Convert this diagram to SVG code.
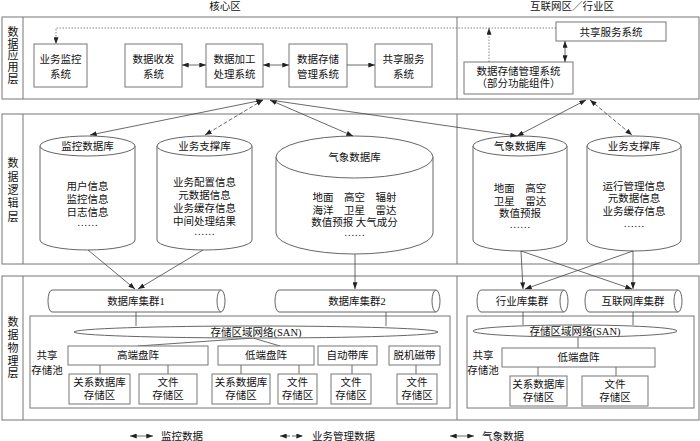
<svg xmlns="http://www.w3.org/2000/svg" width="700" height="441" viewBox="0 0 700 441">
<defs>
<marker id="ah" viewBox="0 0 8 6" refX="8" refY="3" markerWidth="7" markerHeight="5" orient="auto-start-reverse" markerUnits="userSpaceOnUse">
<path d="M0,0 L8,3 L0,6 Z" fill="#222"/>
</marker>
<style>
text{font-family:"Liberation Serif","Noto Sans CJK SC",serif;font-size:10.5px;fill:#111;text-anchor:middle}
.frame{fill:none;stroke:#777;stroke-width:1}
.box{fill:#fff;stroke:#777;stroke-width:1}
.cyl{fill:#fff;stroke:#666;stroke-width:1}
.ln{fill:none;stroke:#444;stroke-width:0.8}
.dash{fill:none;stroke:#444;stroke-width:0.8;stroke-dasharray:4 2}
.dot{fill:none;stroke:#666;stroke-width:0.8;stroke-dasharray:1.5 1.5}
.lab{font-size:11px}
</style>
</defs>
<rect width="700" height="441" fill="#fff"/>

<!-- zone titles -->
<text x="225" y="10">核心区</text>
<text x="572" y="10">互联网区／行业区</text>

<!-- layer frames -->
<g id="layer-app">
<rect class="frame" x="2" y="17" width="697" height="82"/>
<line class="frame" x1="23" y1="17" x2="23" y2="99"/>
<line class="frame" x1="457" y1="17" x2="457" y2="99"/>
<text class="lab" x="13"><tspan x="13" y="36">数</tspan><tspan x="13" y="48">据</tspan><tspan x="13" y="59">应</tspan><tspan x="13" y="71">用</tspan><tspan x="13" y="83">层</tspan></text>
</g>
<g id="layer-logic">
<rect class="frame" x="2" y="114" width="697" height="150"/>
<line class="frame" x1="23" y1="114" x2="23" y2="264"/>
<line class="frame" x1="457" y1="114" x2="457" y2="264"/>
<text class="lab"><tspan x="13" y="167">数</tspan><tspan x="13" y="181">据</tspan><tspan x="13" y="194">逻</tspan><tspan x="13" y="207">辑</tspan><tspan x="13" y="221">层</tspan></text>
</g>
<g id="layer-phys">
<rect class="frame" x="2" y="276" width="697" height="144"/>
<line class="frame" x1="23" y1="276" x2="23" y2="420"/>
<line class="frame" x1="457" y1="276" x2="457" y2="420"/>
<text class="lab"><tspan x="13" y="326">数</tspan><tspan x="13" y="339">据</tspan><tspan x="13" y="352">物</tspan><tspan x="13" y="365">理</tspan><tspan x="13" y="377">层</tspan></text>
</g>

<!-- application layer nodes -->
<g id="app-monitor"><rect class="box" x="34" y="44" width="53" height="43"/><text x="60.5" y="63">业务监控</text><text x="60.5" y="78">系统</text></g>
<g id="app-transfer"><rect class="box" x="125" y="44" width="57" height="43"/><text x="153.5" y="63">数据收发</text><text x="153.5" y="78">系统</text></g>
<g id="app-process"><rect class="box" x="206" y="44" width="57" height="43"/><text x="234.5" y="63">数据加工</text><text x="234.5" y="78">处理系统</text></g>
<g id="app-storage"><rect class="box" x="289" y="44" width="58" height="43"/><text x="318" y="63">数据存储</text><text x="318" y="78">管理系统</text></g>
<g id="app-share"><rect class="box" x="375" y="44" width="57" height="43"/><text x="403.5" y="63">共享服务</text><text x="403.5" y="78">系统</text></g>
<g id="app-share2"><rect class="box" x="556" y="22" width="110" height="19"/><text x="611" y="35.5">共享服务系统</text></g>
<g id="app-storage2"><rect class="box" x="464" y="62" width="109" height="32"/><text x="518.5" y="75">数据存储管理系统</text><text x="518.5" y="87">（部分功能组件）</text></g>

<!-- logic layer nodes -->
<g id="db-monitor">
<path class="cyl" d="M40,146 L40,240 A47.5,10 0 0 0 135,240 L135,146"/>
<ellipse class="cyl" cx="87.5" cy="146" rx="47.5" ry="10"/>
<text x="87.5" y="150">监控数据库</text>
<text x="87.5" y="190">用户信息</text><text x="87.5" y="203">监控信息</text><text x="87.5" y="216">日志信息</text><text x="87.5" y="226">……</text>
</g>
<g id="db-business">
<path class="cyl" d="M157,146 L157,240 A47.5,10 0 0 0 252,240 L252,146"/>
<ellipse class="cyl" cx="204.5" cy="146" rx="47.5" ry="10"/>
<text x="204.5" y="150">业务支撑库</text>
<text x="204.5" y="186">业务配置信息</text><text x="204.5" y="199">元数据信息</text><text x="204.5" y="212">业务缓存信息</text><text x="204.5" y="225">中间处理结果</text><text x="204.5" y="235">……</text>
</g>
<g id="db-meteo">
<path class="cyl" d="M276,157 L276,233 A78.5,21 0 0 0 433,233 L433,157"/>
<ellipse class="cyl" cx="354.5" cy="157" rx="78.5" ry="21"/>
<text x="354.5" y="161">气象数据库</text>
<text x="354.5" y="201" xml:space="preserve">地面　高空　辐射</text><text x="354.5" y="214" xml:space="preserve">海洋　卫星　雷达</text><text x="354.5" y="226">数值预报 大气成分</text><text x="354.5" y="236">……</text>
</g>
<g id="db-meteo2">
<path class="cyl" d="M473,146 L473,240 A47,11 0 0 0 567,240 L567,146"/>
<ellipse class="cyl" cx="520" cy="146" rx="47" ry="10"/>
<text x="520" y="150">气象数据库</text>
<text x="520" y="192">地面　高空</text><text x="520" y="205">卫星　雷达</text><text x="520" y="217">数值预报</text><text x="520" y="228">……</text>
</g>
<g id="db-business2">
<path class="cyl" d="M587,146 L587,240 A47,11 0 0 0 681,240 L681,146"/>
<ellipse class="cyl" cx="634" cy="146" rx="47" ry="10"/>
<text x="634" y="150">业务支撑库</text>
<text x="634" y="190">运行管理信息</text><text x="634" y="202">元数据信息</text><text x="634" y="215">业务缓存信息</text><text x="634" y="227">……</text>
</g>

<!-- physical layer nodes -->
<g id="cluster1">
<path class="cyl" d="M52,290 L221,290 A4,11 0 0 1 221,312 L52,312 A4,11 0 0 1 52,290 Z"/>
<path class="cyl" d="M221,290 A4,11 0 0 0 221,312"/>
<text x="136" y="305">数据库集群1</text>
</g>
<g id="cluster2">
<path class="cyl" d="M279,290 L436,290 A4,11 0 0 1 436,312 L279,312 A4,11 0 0 1 279,290 Z"/>
<path class="cyl" d="M436,290 A4,11 0 0 0 436,312"/>
<text x="357" y="305">数据库集群2</text>
</g>
<g id="cluster-ind">
<path class="cyl" d="M481,290 L564,290 A4,11 0 0 1 564,312 L481,312 A4,11 0 0 1 481,290 Z"/>
<path class="cyl" d="M564,290 A4,11 0 0 0 564,312"/>
<text x="522" y="305">行业库集群</text>
</g>
<g id="cluster-net">
<path class="cyl" d="M589,290 L678,290 A4,11 0 0 1 678,312 L589,312 A4,11 0 0 1 589,290 Z"/>
<path class="cyl" d="M678,290 A4,11 0 0 0 678,312"/>
<text x="633" y="305">互联网库集群</text>
</g>

<g id="pool-core">
<rect class="box" x="30" y="316" width="420" height="92"/>
<text x="47" y="359">共享</text><text x="47" y="374">存储池</text>
</g>
<g id="pool-right">
<rect class="box" x="467" y="316" width="227" height="92"/>
<text x="483" y="359">共享</text><text x="483" y="374">存储池</text>
</g>

<g id="connectors">
<!-- app layer -->
<line class="ln" x1="182" y1="65" x2="206" y2="65" marker-start="url(#ah)" marker-end="url(#ah)"/>
<line class="ln" x1="263" y1="65" x2="289" y2="65" marker-start="url(#ah)" marker-end="url(#ah)"/>
<line class="ln" x1="347" y1="65" x2="375" y2="65" marker-end="url(#ah)"/>
<polyline class="dot" points="556,28 56,28 56,44" marker-end="url(#ah)"/>
<line class="dot" x1="489" y1="62" x2="489" y2="28" marker-end="url(#ah)"/>
<line class="ln" x1="565" y1="41" x2="565" y2="62" marker-start="url(#ah)" marker-end="url(#ah)"/>
<!-- app to logic -->
<line class="ln" x1="263" y1="100" x2="90" y2="135" marker-start="url(#ah)" marker-end="url(#ah)"/>
<line class="dash" x1="263" y1="100" x2="205" y2="135" marker-start="url(#ah)" marker-end="url(#ah)"/>
<line class="ln" x1="270" y1="100" x2="353" y2="136" marker-start="url(#ah)" marker-end="url(#ah)"/>
<line class="ln" x1="270" y1="100" x2="517" y2="136" marker-end="url(#ah)"/>
<line class="ln" x1="586" y1="100" x2="517" y2="136" marker-start="url(#ah)" marker-end="url(#ah)"/>
<line class="dash" x1="590" y1="100" x2="632" y2="135" marker-start="url(#ah)" marker-end="url(#ah)"/>
<!-- logic to physical -->
<line class="ln" x1="88" y1="250" x2="135" y2="289" marker-end="url(#ah)"/>
<line class="ln" x1="203" y1="250" x2="138" y2="289" marker-end="url(#ah)"/>
<line class="ln" x1="355" y1="254" x2="355" y2="289" marker-end="url(#ah)"/>
<line class="ln" x1="521" y1="251" x2="523" y2="289" marker-end="url(#ah)"/>
<line class="ln" x1="521" y1="251" x2="632" y2="289" marker-end="url(#ah)"/>
<line class="ln" x1="633" y1="251" x2="633" y2="289" marker-end="url(#ah)"/>
<line class="ln" x1="633" y1="251" x2="525" y2="289" marker-end="url(#ah)"/>
<!-- storage -->
<line class="ln" x1="136" y1="312" x2="136" y2="326"/>
<line class="ln" x1="386" y1="312" x2="386" y2="326"/>
<line class="ln" x1="253" y1="338" x2="138" y2="346"/>
<line class="ln" x1="253" y1="338" x2="280" y2="346"/>
<line class="ln" x1="523" y1="312" x2="523" y2="325"/>
<line class="ln" x1="633" y1="312" x2="633" y2="325"/>
<line class="ln" x1="578" y1="337" x2="578" y2="348"/>
<line class="ln" x1="100" y1="365" x2="100" y2="374"/>
<line class="ln" x1="168" y1="365" x2="168" y2="374"/>
<line class="ln" x1="241" y1="365" x2="241" y2="374"/>
<line class="ln" x1="299" y1="365" x2="299" y2="374"/>
<line class="ln" x1="352" y1="365" x2="352" y2="374"/>
<line class="ln" x1="416" y1="365" x2="416" y2="374"/>
<line class="ln" x1="538" y1="367" x2="538" y2="376"/>
<line class="ln" x1="616" y1="367" x2="616" y2="376"/>
</g>

<g id="san-core"><ellipse class="cyl" cx="256" cy="332" rx="182" ry="6"/><text x="256" y="336">存储区域网络(SAN)</text></g>
<g id="san-right"><ellipse class="cyl" cx="575" cy="331" rx="102" ry="6"/><text x="575" y="335">存储区域网络(SAN)</text></g>

<g id="arr-high"><rect class="box" x="68" y="346" width="140" height="19"/><text x="138" y="359">高端盘阵</text></g>
<g id="arr-low"><rect class="box" x="218" y="346" width="96" height="19"/><text x="266" y="359">低端盘阵</text></g>
<g id="arr-tape"><rect class="box" x="318" y="346" width="59" height="19"/><text x="347.5" y="359">自动带库</text></g>
<g id="arr-offline"><rect class="box" x="389" y="346" width="51" height="19"/><text x="414.5" y="359">脱机磁带</text></g>
<g id="arr-low2"><rect class="box" x="502" y="348" width="153" height="19"/><text x="578.5" y="361">低端盘阵</text></g>

<g id="st1"><rect class="box" x="69" y="374" width="61" height="30"/><text x="99.5" y="386">关系数据库</text><text x="99.5" y="399">存储区</text></g>
<g id="st2"><rect class="box" x="139" y="374" width="58" height="30"/><text x="168" y="386">文件</text><text x="168" y="399">存储区</text></g>
<g id="st3"><rect class="box" x="212" y="374" width="58" height="30"/><text x="241" y="386">关系数据库</text><text x="241" y="399">存储区</text></g>
<g id="st4"><rect class="box" x="278" y="374" width="39" height="30"/><text x="297.5" y="386">文件</text><text x="297.5" y="399">存储区</text></g>
<g id="st5"><rect class="box" x="331" y="374" width="40" height="30"/><text x="351" y="386">文件</text><text x="351" y="399">存储区</text></g>
<g id="st6"><rect class="box" x="397" y="374" width="40" height="30"/><text x="417" y="386">文件</text><text x="417" y="399">存储区</text></g>
<g id="st7"><rect class="box" x="510" y="376" width="57" height="30"/><text x="538.5" y="388">关系数据库</text><text x="538.5" y="401">存储区</text></g>
<g id="st8"><rect class="box" x="582" y="376" width="66" height="30"/><text x="615" y="388">文件</text><text x="615" y="401">存储区</text></g>

<!-- legend -->
<g id="legend">
<line class="ln" x1="130" y1="436" x2="153" y2="436" marker-start="url(#ah)" marker-end="url(#ah)"/>
<text x="161" y="440" style="text-anchor:start">监控数据</text>
<line class="dash" x1="280" y1="436" x2="303" y2="436" marker-start="url(#ah)" marker-end="url(#ah)"/>
<text x="312" y="440" style="text-anchor:start">业务管理数据</text>
<line class="ln" x1="450" y1="436" x2="474" y2="436" marker-start="url(#ah)" marker-end="url(#ah)"/>
<text x="482" y="440" style="text-anchor:start">气象数据</text>
</g>
</svg>
